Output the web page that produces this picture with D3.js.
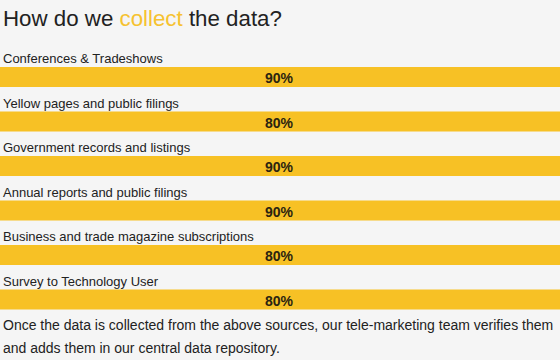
<!DOCTYPE html>
<html><head><meta charset="utf-8">
<script src="https://cdn.jsdelivr.net/npm/d3@7"></script>
<style>
html,body{margin:0;padding:0;background:#f5f5f5;}
svg{display:block;font-family:"Liberation Sans",Arial,sans-serif;}
</style></head>
<body><svg id="c" width="560" height="360"></svg>
<script>
const categories = ["Conferences & Tradeshows","Yellow pages and public filings","Government records and listings","Annual reports and public filings","Business and trade magazine subscriptions","Survey to Technology User"];
const values = [90,80,90,90,80,80];
const titleParts = ["How do we ", "collect", " the data?"];
const footerLines = ["Once the data is collected from the above sources, our tele-marketing team verifies them","and adds them in our central data repository."];

const W=560,H=360;
const svg=d3.select("#c");
svg.append("rect").attr("width",W).attr("height",H).attr("fill","#f5f5f5");

const t=svg.append("text").attr("x",3).attr("y",26).attr("font-size",22.3).attr("fill","#222");
titleParts.forEach((p,i)=>t.append("tspan").text(p).attr("fill",i===1?"#f6c230":"#222"));

const y=d3.scaleBand().domain(categories).range([45,312]).paddingInner(0).paddingOuter(0);
const x=d3.scaleLinear().domain([0,100]).range([0,W]);
const barH=20;

const g=svg.selectAll("g.row").data(categories.map((c,i)=>({c,v:values[i]}))).join("g").attr("class","row")
 .attr("transform",d=>`translate(0,${y(d.c)})`);
g.append("text").attr("x",3).attr("y",18).attr("font-size",13).attr("fill","#222").text(d=>d.c);
g.append("rect").attr("x",x(0)).attr("y",22).attr("width",x(100)-x(0)).attr("height",barH).attr("fill","#f7c125");
g.append("text").attr("x",x(50)-1).attr("y",38).attr("text-anchor","middle").attr("font-size",14).attr("font-weight","bold").attr("fill","#2b2410").text(d=>d.v+"%");

svg.selectAll("text.foot").data(footerLines).join("text").attr("class","foot")
 .attr("x",3).attr("y",(d,i)=>330+i*23).attr("font-size",14).attr("fill","#222").text(d=>d);
</script></body></html>
